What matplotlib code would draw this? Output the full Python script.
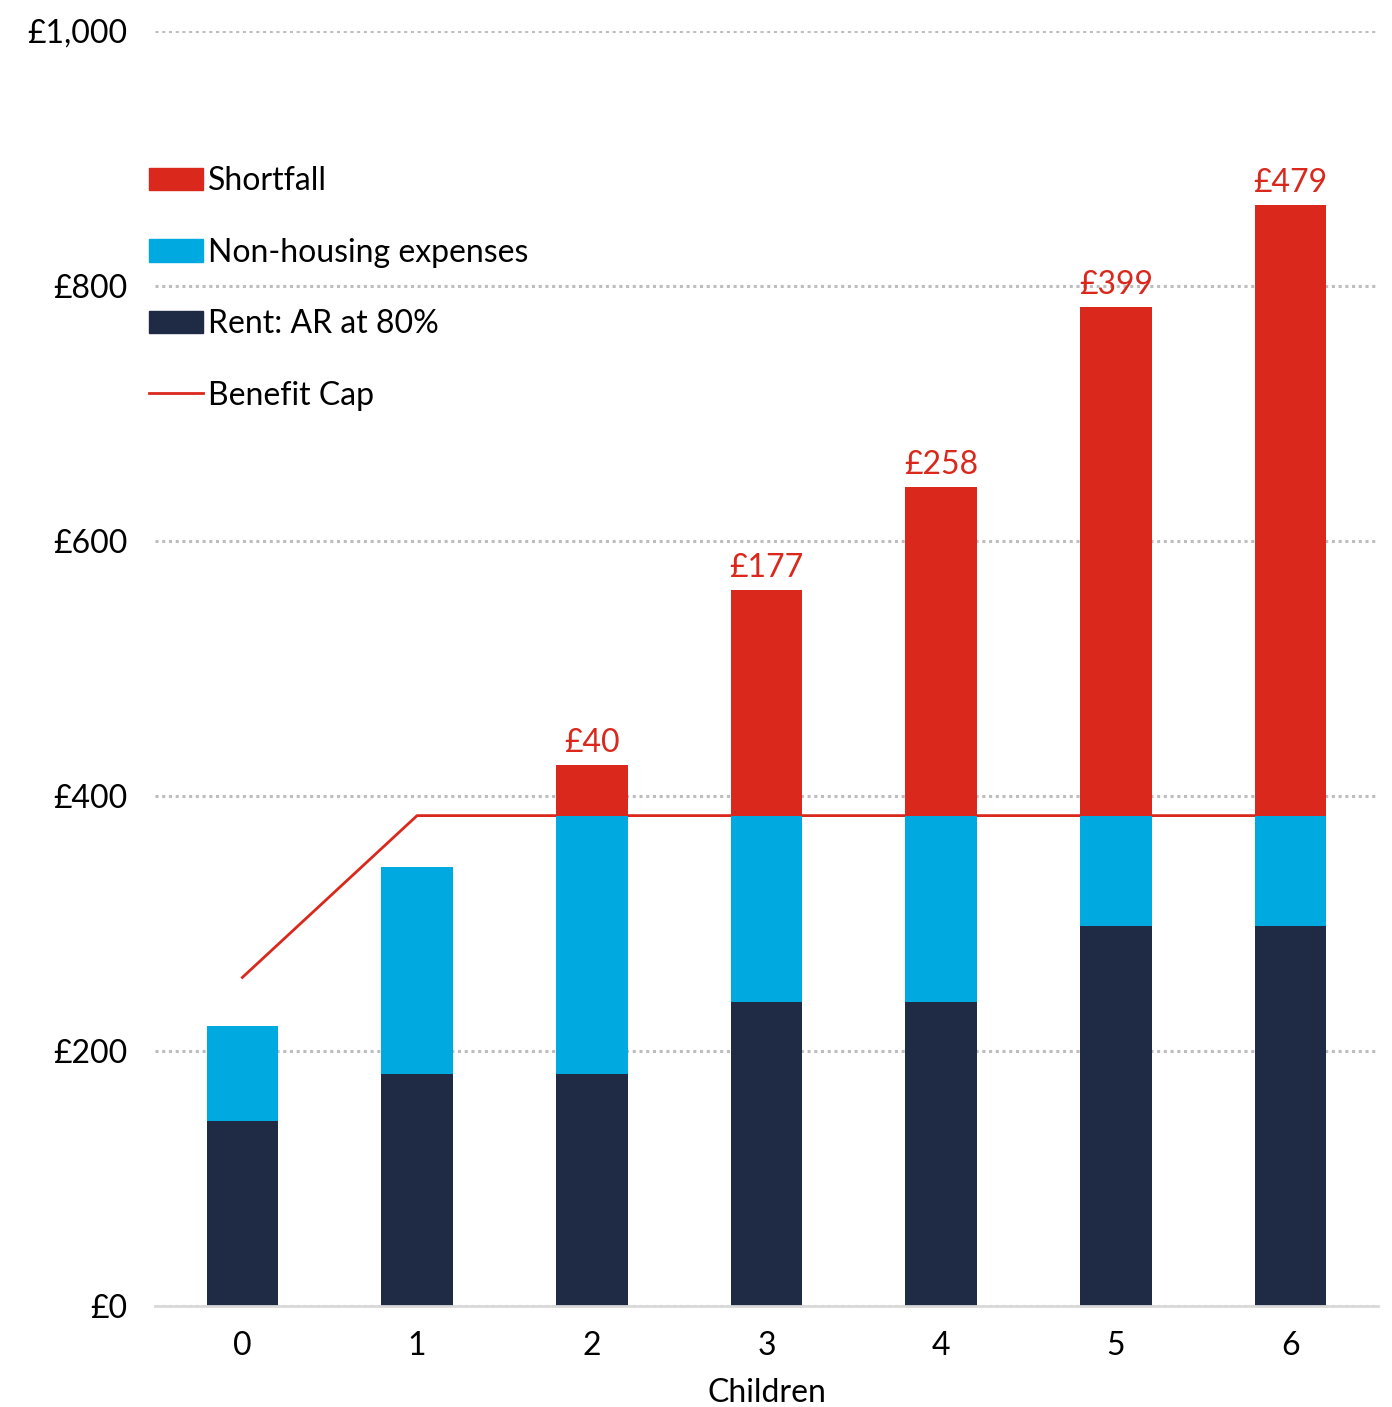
import matplotlib.pyplot as plt
from matplotlib.patches import Patch
from matplotlib.lines import Line2D
from matplotlib.ticker import FuncFormatter

plt.rcParams['font.family'] = ['Lato', 'DejaVu Sans']

children = [0, 1, 2, 3, 4, 5, 6]
rent = [145, 182, 182, 238.4, 238.4, 298, 298]
non_housing = [75, 162, 202.6, 146.2, 146.2, 86.6, 86.6]
shortfall = [0, 0, 40, 177, 258, 399, 479]
benefit_cap = [257.69, 384.62, 384.62, 384.62, 384.62, 384.62, 384.62]

RED = '#DA291C'
BLUE = '#00A9E0'
NAVY = '#1F2A44'
FS = 23

fig = plt.figure(figsize=(13.92, 14.07), dpi=100)
ax = fig.add_axes([155 / 1392, 1 - 1306 / 1407, (1378 - 155) / 1392, (1306 - 31) / 1407])

ax.plot(children, benefit_cap, color=RED, lw=2, zorder=2)

width = 0.41
ax.bar(children, rent, width, color=NAVY, zorder=3)
bottom2 = [r + n for r, n in zip(rent, non_housing)]
ax.bar(children, non_housing, width, bottom=rent, color=BLUE, zorder=3)
ax.bar(children, shortfall, width, bottom=bottom2, color=RED, zorder=3)

for x, b, s in zip(children, bottom2, shortfall):
    if s > 0:
        ax.annotate(f'£{s}', (x, b + s), xytext=(0, 5), textcoords='offset points',
                    ha='center', va='bottom', color=RED, fontsize=FS)

ax.set_xlim(-0.5, 6.5)
ax.set_ylim(0, 1000)
ax.set_yticks(range(0, 1001, 200))
ax.yaxis.set_major_formatter(FuncFormatter(lambda v, p: f'£{int(v):,}'))
ax.set_xticks(children)
ax.tick_params(axis='both', length=0, labelsize=FS, colors='black')
ax.tick_params(axis='y', pad=20)
ax.tick_params(axis='x', pad=18)
ax.set_xlabel('Children', fontsize=FS, labelpad=12)

ax.grid(axis='y', linestyle=(0, (1, 1.2)), color='#BDBDBD', lw=2.2, zorder=0)
for s in ['top', 'right', 'left']:
    ax.spines[s].set_visible(False)
ax.spines['bottom'].set_color('#D9D9D9')
ax.spines['bottom'].set_linewidth(2)
ax.spines['bottom'].set_zorder(4)
ax.set_axisbelow(True)

handles = [Patch(color=RED), Patch(color=BLUE), Patch(color=NAVY),
           Line2D([], [], color=RED, lw=2)]
labels = ['Shortfall', 'Non-housing expenses', 'Rent: AR at 80%', 'Benefit Cap']
ax.legend(handles, labels, loc='upper left', bbox_to_anchor=(133 / 1392, 1 - 150 / 1407),
          bbox_transform=fig.transFigure, frameon=False, fontsize=FS,
          labelspacing=1.3, handlelength=1.7, handletextpad=0.16, borderpad=0)

fig.savefig('out.png', dpi=100)
